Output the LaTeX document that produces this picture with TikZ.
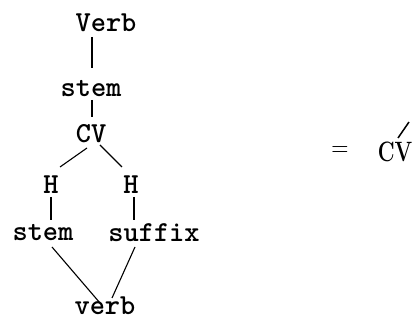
\documentclass[tikz,border=0pt]{standalone}
\usetikzlibrary{calc}
\begin{document}
\begin{tikzpicture}[x=1pt,y=-1pt,
  lab/.style={inner sep=0pt,font=\ttfamily\bfseries\fontsize{29}{30}\selectfont},
  rom/.style={inner sep=0pt,xscale=0.85,font=\rmfamily\fontsize{28}{30}\selectfont},
  romb/.style={inner sep=0pt,xscale=0.74,font=\rmfamily\bfseries\fontsize{28}{30}\selectfont},
  conn/.style={line width=1.1pt}]
\path[use as bounding box] (0,0) rectangle (413,320);
\node[lab] (Verb) at (106,23) {Verb};
\node[lab] (stem1) at (91,89) {stem};
\node[lab] (CV) at (91,134) {CV};
\node[lab] (H1) at (51,185) {H};
\node[lab] (H2) at (131,185) {H};
\node[lab] (stem2) at (43,233) {stem};
\node[lab] (suffix) at (154,233) {suffix};
\node[lab] (verb) at (105,306) {verb};
\node[rom] (eq) at (340,152) {=};
\node[romb] (cv2) at (395,152) {CV};
\draw[conn] ($(Verb)+(-14,14)$) -- ($(stem1)+(1,-21)$);
\draw[conn] ($(stem1)+(1,11)$) -- ($(CV)+(1,-17)$);
\draw[conn] ($(CV)+(-4,14)$) -- ($(H1)+(9,-18)$);
\draw[conn] ($(CV)+(9,11)$) -- ($(H2)+(-9,-18)$);
\draw[conn] ($(H1)+(0,12)$) -- ($(stem2)+(8,-13)$);
\draw[conn] ($(H2)+(3,12)$) -- ($(suffix)+(-20,-13)$);
\draw[conn] ($(stem2)+(9,14)$) -- ($(verb)+(-5,-3)$);
\draw[conn] ($(suffix)+(-19,14)$) -- ($(verb)+(7,-8)$);
\draw[line width=1.5pt] ($(cv2)+(3,-14)$) -- ($(cv2)+(14,-30)$);
\end{tikzpicture}
\end{document}
